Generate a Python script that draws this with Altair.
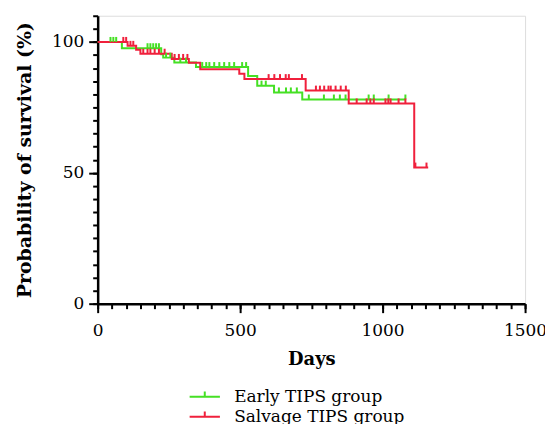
import altair as alt
import pandas as pd

groups = ["Early TIPS group", "Salvage TIPS group"]
colors = ["#45e024", "#f0203c"]

early_days = [0, 85, 223, 230, 269, 345, 528, 560, 619, 718, 1082]
early_surv = [100, 97.6, 95.3, 94.0, 92.1, 90.4, 87.0, 83.3, 80.7, 78.0, 78.0]
early_censor = [45, 55, 65, 175, 185, 195, 205, 215, 240, 255, 290, 310, 367, 381,
                392, 409, 427, 444, 462, 479, 507, 521, 575, 590, 636, 661, 678, 699,
                741, 794, 829, 850, 870, 951, 969, 1021, 1080]

salvage_days = [0, 105, 135, 150, 260, 320, 360, 497, 515, 730, 881, 1111, 1160]
salvage_surv = [100, 98.5, 97.0, 95.5, 93.5, 92.0, 89.6, 87.8, 85.8, 81.4, 76.5, 52.0, 52.0]
salvage_censor = [90, 100, 115, 125, 160, 175, 185, 200, 215, 235, 270, 285, 300, 315,
                  600, 620, 640, 660, 671, 717, 766, 780, 795, 810, 818, 835, 853, 871,
                  909, 944, 957, 969, 1010, 1020, 1028, 1056, 1080, 1115, 1154]

x_major = [0, 500, 1000, 1500]
x_minor = list(range(0, 1501, 50))
y_major = [0, 50, 100]
y_minor = list(range(0, 111, 5))


def surv_at(days, surv, t):
    s = surv[0]
    for d, v in zip(days, surv):
        if d <= t:
            s = v
    return s


line_rows = []
for g, ds, ss in [(groups[0], early_days, early_surv), (groups[1], salvage_days, salvage_surv)]:
    for d, s in zip(ds, ss):
        line_rows.append({"group": g, "day": d, "surv": s})
lines_df = pd.DataFrame(line_rows)

cens_rows = []
for g, ds, ss, cs in [(groups[0], early_days, early_surv, early_censor),
                      (groups[1], salvage_days, salvage_surv, salvage_censor)]:
    for c in cs:
        cens_rows.append({"group": g, "day": c, "surv": surv_at(ds, ss, c)})
cens_df = pd.DataFrame(cens_rows)

FONT = "DejaVu Serif"
xscale = alt.Scale(domain=[0, 1500], nice=False, zero=False)
yscale = alt.Scale(domain=[0, 110], nice=False, zero=False)
cscale = alt.Scale(domain=groups, range=colors)

legend = alt.Legend(
    title=None, orient="none", legendX=97, legendY=372, direction="vertical",
    symbolType="M-1.6,0L1.6,0M0,0L0,-0.55", symbolSize=361, symbolStrokeWidth=2,
    labelFont=FONT, labelFontSize=17, labelColor="black", labelOffset=19,
    labelLimit=400, rowPadding=1, padding=0,
)

lines = alt.Chart(lines_df).mark_line(interpolate="step-after", strokeWidth=2).encode(
    x=alt.X("day:Q", scale=xscale, axis=alt.Axis(
        orient="bottom", values=x_major, format="d", tickSize=9, tickWidth=2,
        tickColor="black", domainWidth=2.5, domainColor="black", labelFont=FONT,
        labelFontSize=17, labelColor="black", labelPadding=10, labelFlush=False,
        labelBound=False, title="Days", titleFont=FONT, titleFontSize=18,
        titleFontWeight="bold", titleColor="black", titlePadding=12, grid=False)),
    y=alt.Y("surv:Q", scale=yscale, axis=alt.Axis(
        orient="left", values=y_major, format="d", tickSize=9, tickWidth=2,
        tickColor="black", domainWidth=2.5, domainColor="black", labelFont=FONT,
        labelFontSize=17, labelColor="black", labelPadding=5, labelFlush=False,
        title="Probability of survival (%)", titleFont=FONT, titleFontSize=19,
        titleFontWeight="bold", titleColor="black", titlePadding=17, grid=False)),
    color=alt.Color("group:N", scale=cscale, legend=legend),
)

ticks = alt.Chart(cens_df).mark_tick(orient="vertical", size=5, thickness=2,
                                     yOffset=-2.5, opacity=1).encode(
    x=alt.X("day:Q", scale=xscale, axis=alt.Axis(
        orient="bottom", values=x_minor, tickSize=5, tickWidth=2, tickColor="black",
        labels=False, domain=False, title=None, grid=False)),
    y=alt.Y("surv:Q", scale=yscale, axis=alt.Axis(
        orient="left", values=y_minor, tickSize=5, tickWidth=2, tickColor="black",
        labels=False, domain=False, title=None, grid=False)),
    color=alt.Color("group:N", scale=cscale, legend=None),
)

chart = alt.layer(lines, ticks).resolve_axis(x="independent", y="independent").properties(
    width=429, height=289, autosize="none",
    padding={"left": 90, "top": 7, "right": 20, "bottom": 120},
).configure_view(stroke=None).configure(background="white")

chart.save("out.html", embed_options={"renderer": "svg", "actions": False})
